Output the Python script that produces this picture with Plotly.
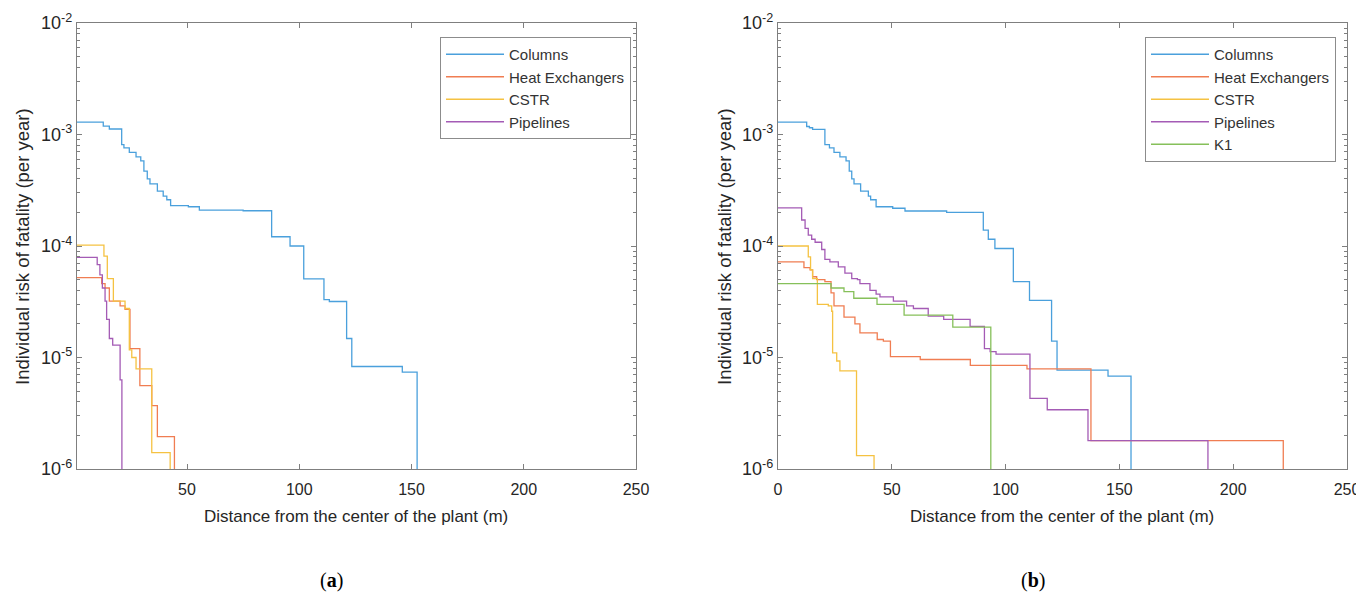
import plotly.graph_objects as go

# ---------------- data (a) ----------------
a_columns_x = [0, 12.7, 15.4, 20.9, 21.9, 24.3, 27.3, 29.4, 30.8, 32.3, 33.5, 36.8, 39.4, 41, 42.7, 50.6, 55.5, 75, 87.7, 95.9, 102, 111, 113.4, 121.1, 123.4, 145.9, 152.5]
a_columns_y = [1.29e-3, 1.19e-3, 1.12e-3, 8.1e-4, 7.6e-4, 6.9e-4, 6.3e-4, 5.8e-4, 4.7e-4, 4.0e-4, 3.6e-4, 3.1e-4, 2.8e-4, 2.6e-4, 2.3e-4, 2.25e-4, 2.1e-4, 2.07e-4, 1.21e-4, 1.0e-4, 5.07e-5, 3.3e-5, 3.18e-5, 1.48e-5, 8.3e-6, 7.4e-6, 1e-6]

a_hx_x = [0, 12, 13.5, 15.4, 20.2, 22.4, 24.6, 29, 34.3, 36.8, 44.4]
a_hx_y = [5.2e-5, 4.6e-5, 4.2e-5, 3.2e-5, 2.9e-5, 2.7e-5, 1.2e-5, 5.6e-6, 3.7e-6, 1.95e-6, 1e-6]

a_cstr_x = [0, 13, 14.5, 17.2, 22.4, 24.3, 25.4, 27.3, 34.3, 42.5]
a_cstr_y = [1.02e-4, 8.1e-5, 5.1e-5, 3.2e-5, 2.75e-5, 1.17e-5, 1.0e-5, 7.9e-6, 1.4e-6, 1e-6]

a_pipe_x = [0, 10, 11.2, 12.3, 13.5, 14.2, 15.4, 16.9, 20.2, 21]
a_pipe_y = [7.9e-5, 6.8e-5, 5.5e-5, 4.2e-5, 3.2e-5, 2.2e-5, 1.48e-5, 1.29e-5, 6.3e-6, 1e-6]

# ---------------- data (b) ----------------
b_columns_x = [0, 12.6, 13.8, 15.2, 20.6, 22.6, 24.6, 27.2, 29.9, 31.3, 32.4, 33.4, 36.3, 39.7, 40.7, 43.1, 50.4, 55.8, 74.1, 90.2, 92.4, 95.3, 103.4, 110.5, 120.2, 122.6, 145, 155.1]
b_columns_y = [1.29e-3, 1.18e-3, 1.15e-3, 1.11e-3, 8.1e-4, 7.6e-4, 6.9e-4, 6.3e-4, 5.8e-4, 4.7e-4, 4.0e-4, 3.6e-4, 3.1e-4, 2.8e-4, 2.6e-4, 2.25e-4, 2.18e-4, 2.06e-4, 2.0e-4, 1.39e-4, 1.15e-4, 9.5e-5, 4.8e-5, 3.25e-5, 1.4e-5, 7.7e-6, 6.8e-6, 1e-6]

b_hx_x = [0, 11.4, 14.1, 15.2, 17, 20.6, 23.3, 24.6, 29, 33.8, 36, 43.6, 46.3, 49.4, 62.5, 84.5, 109.4, 137.5, 222]
b_hx_y = [7.2e-5, 6.4e-5, 6.1e-5, 5.3e-5, 5.0e-5, 4.8e-5, 3.8e-5, 2.9e-5, 2.3e-5, 2.0e-5, 1.66e-5, 1.45e-5, 1.4e-5, 1.02e-5, 9.6e-6, 8.5e-6, 7.9e-6, 1.8e-6, 1e-6]

b_cstr_x = [0, 13.3, 14.3, 15.2, 17.3, 22.1, 23.6, 24, 25.8, 27.2, 34.5, 42.2]
b_cstr_y = [1.0e-4, 8.0e-5, 6.1e-5, 5.1e-5, 3.0e-5, 2.9e-5, 2.6e-5, 1.1e-5, 9.3e-6, 7.6e-6, 1.32e-6, 1e-6]

b_pipe_x = [0, 10.4, 11.9, 13.3, 14.8, 16.3, 19.2, 20.6, 22.8, 26.5, 29.4, 32.4, 34.9, 36, 40.4, 43.1, 44.8, 50.7, 56.5, 59.5, 66, 72.8, 84.4, 90.7, 93.2, 95.8, 110.7, 118.3, 136.2, 146.4, 188.9]
b_pipe_y = [2.2e-4, 1.71e-4, 1.44e-4, 1.25e-4, 1.15e-4, 1.08e-4, 9.3e-5, 7.6e-5, 7.2e-5, 6.5e-5, 5.7e-5, 5.1e-5, 5.0e-5, 4.6e-5, 4.0e-5, 3.7e-5, 3.5e-5, 3.2e-5, 2.9e-5, 2.75e-5, 2.35e-5, 2.2e-5, 1.9e-5, 1.2e-5, 1.13e-5, 1.07e-5, 4.3e-6, 3.4e-6, 1.8e-6, 1.8e-6, 1e-6]

b_k1_x = [0, 23.3, 29, 33.3, 43.5, 55.4, 76.8, 93.5]
b_k1_y = [4.6e-5, 4.2e-5, 3.9e-5, 3.4e-5, 3.0e-5, 2.4e-5, 1.87e-5, 1e-6]

series_names = ["Columns", "Heat Exchangers", "CSTR", "Pipelines", "K1"]
colors = ["#4aa0dc", "#f07d52", "#f5c242", "#a45bb5", "#86c05a"]

y_tickvals = [1e-6, 1e-5, 1e-4, 1e-3, 1e-2]
y_ticktext = ["10<sup>-6</sup>", "10<sup>-5</sup>", "10<sup>-4</sup>", "10<sup>-3</sup>", "10<sup>-2</sup>"]
y_minor_mult = [2, 3, 4, 5, 6, 7, 8, 9]
a_xticks = [50, 100, 150, 200, 250]
b_xticks = [0, 50, 100, 150, 200, 250]

# page body has an 8px default margin; size the figure to fit the window
OFF = 8
W, H = 1364 - OFF, 603 - OFF
fig = go.Figure()

a_sets = [(a_columns_x, a_columns_y), (a_hx_x, a_hx_y), (a_cstr_x, a_cstr_y), (a_pipe_x, a_pipe_y)]
b_sets = [(b_columns_x, b_columns_y), (b_hx_x, b_hx_y), (b_cstr_x, b_cstr_y), (b_pipe_x, b_pipe_y), (b_k1_x, b_k1_y)]

for i, (xs, ys) in enumerate(a_sets):
    fig.add_trace(go.Scatter(x=xs, y=ys, mode="lines", line=dict(shape="hv", color=colors[i], width=1.3),
                             name=series_names[i], xaxis="x", yaxis="y", legend="legend"))
for i, (xs, ys) in enumerate(b_sets):
    fig.add_trace(go.Scatter(x=xs, y=ys, mode="lines", line=dict(shape="hv", color=colors[i], width=1.3),
                             name=series_names[i], xaxis="x2", yaxis="y2", legend="legend2"))

# invisible traces so the minor-tick overlay axes render
fig.add_trace(go.Scatter(x=[None], y=[None], xaxis="x", yaxis="y3", showlegend=False, hoverinfo="skip"))
fig.add_trace(go.Scatter(x=[None], y=[None], xaxis="x2", yaxis="y4", showlegend=False, hoverinfo="skip"))


def px(x):
    return (x - OFF) / W


def py(y):
    return 1 - (y - OFF) / H


axis_common = dict(showline=True, linecolor="#7f7f7f", linewidth=1.2, mirror="ticks", ticks="inside",
                   tickcolor="#7f7f7f", ticklen=5, showgrid=False, zeroline=False, automargin=False)
xfont = dict(family="Liberation Sans, Arial", size=16, color="#262626")
yfont = dict(family="Liberation Sans, Arial", size=18, color="#262626")

yaxis_common = dict(axis_common, type="log", range=[-6, -2], tickmode="array", tickvals=y_tickvals,
                    ticktext=y_ticktext, tickfont=yfont)

minor_vals = [m * 10 ** e for e in range(-6, -2) for m in y_minor_mult]
minor_axis = dict(type="log", range=[-6, -2], tickmode="array", tickvals=minor_vals, ticks="inside",
                  ticklen=3, tickcolor="#7f7f7f", showticklabels=False, showline=False, mirror="ticks",
                  showgrid=False, zeroline=False, automargin=False)

ytop, ybot = 23, 469
fig.update_layout(
    width=W, height=H, margin=dict(l=0, r=0, t=0, b=0, autoexpand=False),
    paper_bgcolor="white", plot_bgcolor="white",
    xaxis=dict(axis_common, domain=[px(77), px(636)], range=[1, 250], tickmode="array", tickvals=a_xticks,
               anchor="y", tickfont=xfont, ticklabelstandoff=6),
    yaxis=dict(yaxis_common, domain=[py(ybot), py(ytop)], anchor="x"),
    xaxis2=dict(axis_common, domain=[px(778), px(1347)], range=[0, 250], tickmode="array", tickvals=b_xticks,
                anchor="y2", tickfont=xfont, ticklabelstandoff=6),
    yaxis2=dict(yaxis_common, domain=[py(ybot), py(ytop)], anchor="x2"),
    yaxis3=dict(minor_axis, overlaying="y", anchor="x", domain=[py(ybot), py(ytop)]),
    yaxis4=dict(minor_axis, overlaying="y2", anchor="x2", domain=[py(ybot), py(ytop)]),
    legend=dict(x=px(440), y=py(37), xanchor="left", yanchor="top", bgcolor="white",
                bordercolor="#8c8c8c", borderwidth=1, itemwidth=58,
                font=dict(family="Liberation Sans, Arial", size=15, color="#333333"), tracegroupgap=0),
    legend2=dict(x=px(1145), y=py(37), xanchor="left", yanchor="top", bgcolor="white",
                 bordercolor="#8c8c8c", borderwidth=1, itemwidth=58,
                 font=dict(family="Liberation Sans, Arial", size=15, color="#333333"), tracegroupgap=0),
    showlegend=True,
)

title_font_y = dict(family="Liberation Sans, Arial", size=18.5, color="#262626")
title_font_x = dict(family="Liberation Sans, Arial", size=17, color="#262626")
annots = [
    dict(text="Individual risk of fatality (per year)", x=px(22), y=py(247), textangle=-90, font=title_font_y),
    dict(text="Individual risk of fatality (per year)", x=px(724), y=py(247), textangle=-90, font=title_font_y),
    dict(text="Distance from the center of the plant (m)", x=px(356), y=py(516), font=title_font_x),
    dict(text="Distance from the center of the plant (m)", x=px(1062), y=py(516), font=title_font_x),
    dict(text="(<b>a</b>)", x=px(331), y=py(580), font=dict(family="Liberation Serif, serif", size=20, color="black")),
    dict(text="(<b>b</b>)", x=px(1033), y=py(580), font=dict(family="Liberation Serif, serif", size=20, color="black")),
]
for a in annots:
    fig.add_annotation(xref="paper", yref="paper", showarrow=False, xanchor="center", yanchor="middle", **a)

fig.write_html("out.html")
